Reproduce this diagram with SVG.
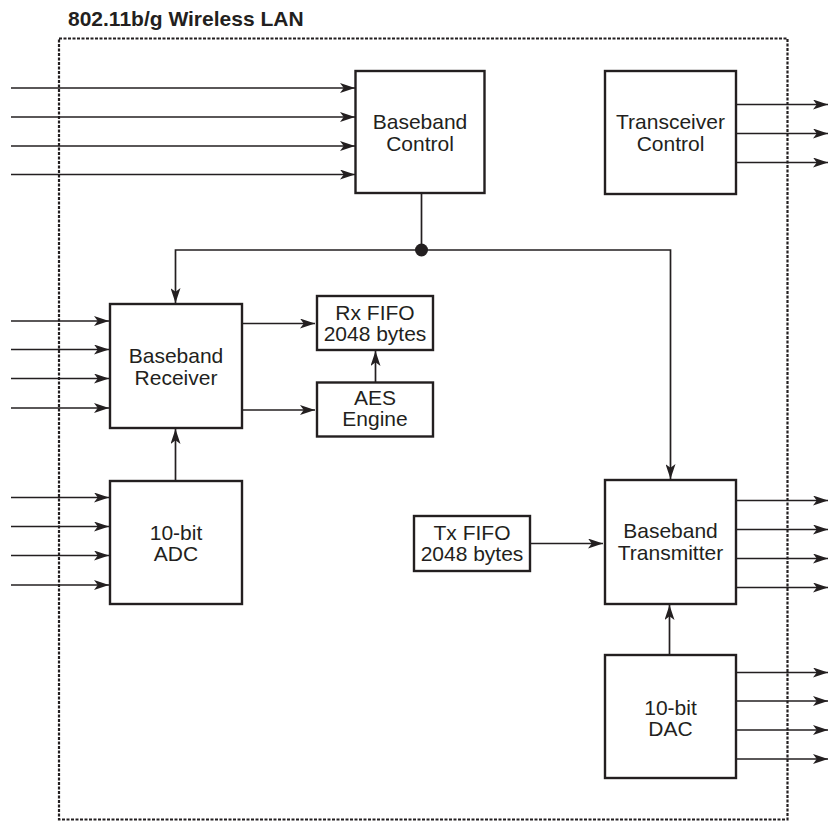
<svg xmlns="http://www.w3.org/2000/svg" width="828" height="821" viewBox="0 0 828 821">
<style>
.box{fill:#fff;stroke:#231f20;stroke-width:2.4}
.t{font-family:"Liberation Sans",Arial,sans-serif;font-size:21px;fill:#231f20;text-anchor:middle}
.c{stroke:#231f20;stroke-width:1.7;fill:none}
.a{marker-end:url(#ah)}
</style>
<defs>
<marker id="ah" viewBox="0 0 12 8" refX="12" refY="4" markerWidth="15" markerHeight="10" orient="auto" markerUnits="userSpaceOnUse">
<path d="M0,0 L12,4 L0,8 L3,4 z" fill="#231f20"/>
</marker>
</defs>
<rect width="828" height="821" fill="#fff"/>
<text x="68" y="26" font-family="Liberation Sans,Arial,sans-serif" font-weight="bold" font-size="21" fill="#231f20">802.11b/g Wireless LAN</text>
<rect id="border" x="59" y="38.5" width="728.5" height="781" fill="none" stroke="#231f20" stroke-width="2.2" stroke-dasharray="3 1.5"/>
<g id="connectors">
<line class="c a" x1="11" y1="88" x2="355" y2="88"/>
<line class="c a" x1="11" y1="117" x2="355" y2="117"/>
<line class="c a" x1="11" y1="146" x2="355" y2="146"/>
<line class="c a" x1="11" y1="174.5" x2="355" y2="174.5"/>
<line class="c a" x1="736" y1="104.5" x2="828" y2="104.5"/>
<line class="c a" x1="736" y1="133.5" x2="828" y2="133.5"/>
<line class="c a" x1="736" y1="162.5" x2="828" y2="162.5"/>
<line class="c" x1="421.5" y1="193" x2="421.5" y2="250"/>
<polyline class="c a" points="421.5,250 175.5,250 175.5,303"/>
<polyline class="c a" points="421.5,250 670.5,250 670.5,479"/>
<circle cx="421.5" cy="250" r="6.5" fill="#231f20"/>
<line class="c a" x1="11" y1="321" x2="109" y2="321"/>
<line class="c a" x1="11" y1="349.5" x2="109" y2="349.5"/>
<line class="c a" x1="11" y1="378.5" x2="109" y2="378.5"/>
<line class="c a" x1="11" y1="408" x2="109" y2="408"/>
<line class="c a" x1="242" y1="323.5" x2="315" y2="323.5"/>
<line class="c a" x1="242" y1="410" x2="315" y2="410"/>
<line class="c a" x1="375.5" y1="382" x2="375.5" y2="351"/>
<line class="c a" x1="175.5" y1="481" x2="175.5" y2="429"/>
<line class="c a" x1="11" y1="497.5" x2="109" y2="497.5"/>
<line class="c a" x1="11" y1="526.5" x2="109" y2="526.5"/>
<line class="c a" x1="11" y1="555.5" x2="109" y2="555.5"/>
<line class="c a" x1="11" y1="585" x2="109" y2="585"/>
<line class="c a" x1="530" y1="543.5" x2="603" y2="543.5"/>
<line class="c a" x1="736" y1="500.5" x2="828" y2="500.5"/>
<line class="c a" x1="736" y1="529.5" x2="828" y2="529.5"/>
<line class="c a" x1="736" y1="558.5" x2="828" y2="558.5"/>
<line class="c a" x1="736" y1="587.5" x2="828" y2="587.5"/>
<line class="c a" x1="669.5" y1="655" x2="669.5" y2="605"/>
<line class="c a" x1="736" y1="672.5" x2="828" y2="672.5"/>
<line class="c a" x1="736" y1="701" x2="828" y2="701"/>
<line class="c a" x1="736" y1="730" x2="828" y2="730"/>
<line class="c a" x1="736" y1="759" x2="828" y2="759"/>
</g>
<g id="baseband-control">
<rect class="box" x="355.5" y="71" width="129" height="122"/>
<text class="t" x="420" y="129">Baseband</text>
<text class="t" x="420" y="151">Control</text>
</g>
<g id="transceiver-control">
<rect class="box" x="605" y="71" width="131" height="123"/>
<text class="t" x="670.5" y="129">Transceiver</text>
<text class="t" x="670.5" y="151">Control</text>
</g>
<g id="baseband-receiver">
<rect class="box" x="110" y="304" width="132" height="124"/>
<text class="t" x="176" y="363">Baseband</text>
<text class="t" x="176" y="385">Receiver</text>
</g>
<g id="rx-fifo">
<rect class="box" x="317" y="296" width="116" height="54"/>
<text class="t" x="375" y="320">Rx FIFO</text>
<text class="t" x="375" y="341">2048 bytes</text>
</g>
<g id="aes-engine">
<rect class="box" x="317" y="382.5" width="116" height="54"/>
<text class="t" x="375" y="405">AES</text>
<text class="t" x="375" y="426">Engine</text>
</g>
<g id="adc">
<rect class="box" x="110" y="481" width="132" height="123"/>
<text class="t" x="176" y="540">10-bit</text>
<text class="t" x="176" y="561">ADC</text>
</g>
<g id="tx-fifo">
<rect class="box" x="414" y="516" width="116" height="55"/>
<text class="t" x="472" y="540">Tx FIFO</text>
<text class="t" x="472" y="561">2048 bytes</text>
</g>
<g id="baseband-transmitter">
<rect class="box" x="605" y="480" width="131" height="124"/>
<text class="t" x="670.5" y="538">Baseband</text>
<text class="t" x="670.5" y="560">Transmitter</text>
</g>
<g id="dac">
<rect class="box" x="605" y="655" width="131" height="123"/>
<text class="t" x="670.5" y="715">10-bit</text>
<text class="t" x="670.5" y="736">DAC</text>
</g>
</svg>
